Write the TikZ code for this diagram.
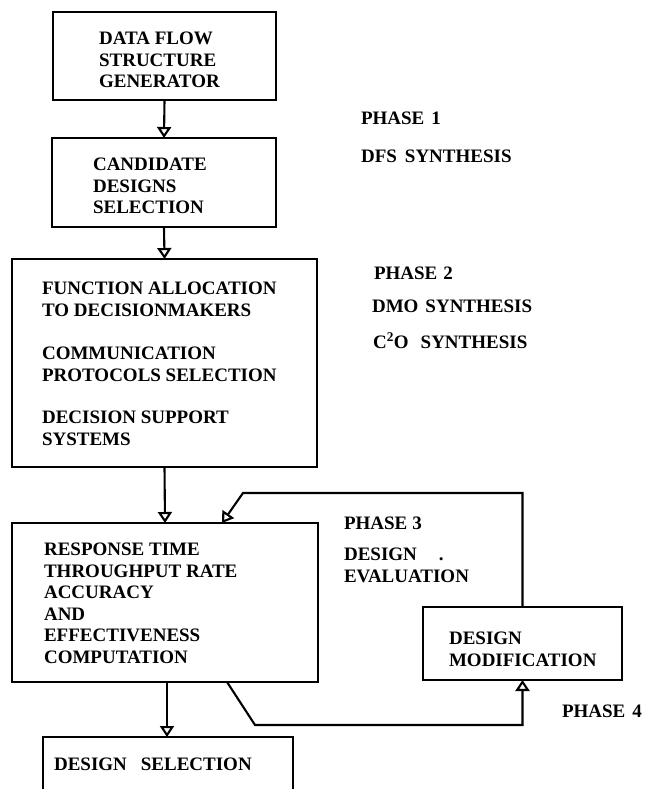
\documentclass[tikz,border=0pt]{standalone}
\usepackage{fontspec}
\setmainfont{Liberation Serif}
\usetikzlibrary{arrows.meta}
\begin{document}
\begin{tikzpicture}[x=1pt,y=-1pt,
  line width=2.1pt, line join=miter,
  box/.style={draw, rectangle, inner sep=0pt, outer sep=0pt},
  txt/.style={anchor=north west, inner sep=0pt, align=left,
    font=\fontsize{19}{21.5}\selectfont\bfseries},
  arr/.style={-{Triangle[open, width=14pt, length=11pt]}}]
\useasboundingbox (0,0) rectangle (653,789);
\clip (0,0) rectangle (653,789);

% processing boxes
\node[box, minimum width=223pt, minimum height=88pt]  (b1) at (164.5,56) {};
\node[box, minimum width=224pt, minimum height=89pt]  (b2) at (164,182.5) {};
\node[box, minimum width=305pt, minimum height=208pt] (b3) at (164.5,363) {};
\node[box, minimum width=306pt, minimum height=159pt] (b4) at (165,602.5) {};
\node[box, minimum width=250pt, minimum height=100pt] (b5) at (168,787) {};
\node[box, minimum width=199pt, minimum height=73pt]  (dm) at (522.5,643.5) {};

% box texts
\node[txt] (t1) at (98,31)  {DATA FLOW\\STRUCTURE\\GENERATOR};
\node[txt] (t2) at (92,157) {CANDIDATE\\DESIGNS\\SELECTION};
\node[txt] (t3) at (41,281) {FUNCTION ALLOCATION\\TO DECISIONMAKERS\\[22pt]
  COMMUNICATION\\PROTOCOLS SELECTION\\[21pt]
  DECISION SUPPORT\\SYSTEMS};
\node[txt] (t4) at (43,542) {RESPONSE TIME\\THROUGHPUT RATE\\ACCURACY\\AND\\EFFECTIVENESS\\COMPUTATION};
\node[txt] (t5) at (53,757) {DESIGN\hspace{14pt}SELECTION};
\node[txt] (tdm) at (448,631) {DESIGN\\MODIFICATION};

% phase labels
\node[txt] (p1)  at (360,111) {PHASE\hspace{7pt}1};
\node[txt] (p1a) at (360,149) {DFS\hspace{8pt}SYNTHESIS};
\node[txt] (p2)  at (373,266) {PHASE\hspace{6pt}2};
\node[txt] (p2a) at (371,299) {DMO\hspace{7pt}SYNTHESIS};
\node[txt] (p2b) at (372,332) {C\textsuperscript{2}O\hspace{12pt}SYNTHESIS};
\node[txt] (p3)  at (343,516) {PHASE\hspace{5pt}3};
\node[txt] (p3a) at (343,547) {DESIGN\hspace{22pt}.\\EVALUATION};
\node[txt] (p4)  at (561,704) {PHASE\hspace{7pt}4};

% main flow
\draw[arr] (b1.south) -- (b2.north);
\draw[arr] (b2.south) -- (b3.north);
\draw[arr] (b3.south) -- (b4.north);
\draw[arr] ([xshift=2pt]b4.south) -- ([xshift=-1pt]b5.north);

% evaluation / modification loop
\draw[arr] ([xshift=215pt]b4.south west) -- (255,725) -| (dm.south);
\draw[arr] (dm.north) |- (243,493) -- ([xshift=210pt]b4.north west);
\end{tikzpicture}
\end{document}
